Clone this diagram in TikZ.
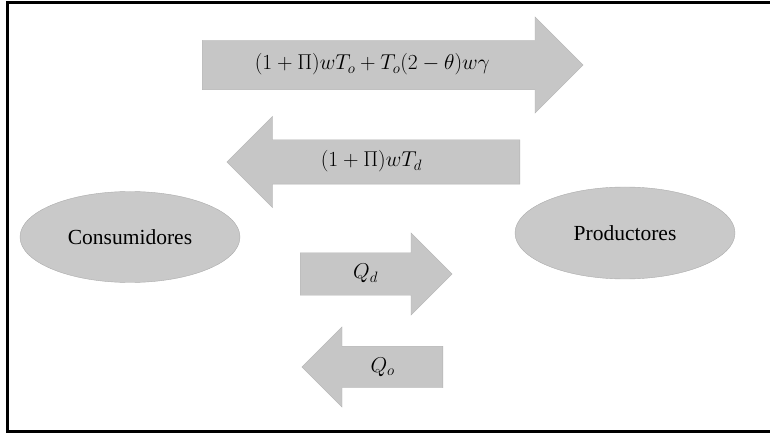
\RequirePackage{fix-cm}
\documentclass[tikz,border=0pt]{standalone}
\usepackage{amsmath,amssymb}
\usepackage{fontspec}
\setmainfont{Liberation Serif}
\usetikzlibrary{shapes.geometric,shapes.arrows}
\definecolor{flowgray}{RGB}{198,198,198}
\definecolor{blobgray}{RGB}{201,201,201}
\definecolor{blobedge}{RGB}{172,172,172}

\begin{document}
\begin{tikzpicture}[x=1pt,y=-1pt,
  agent/.style={ellipse,draw=blobedge,fill=blobgray,inner sep=0pt,font=\fontsize{21.5}{24}\selectfont},
  flow/.style={single arrow,fill=flowgray,draw=flowgray!90!black,line width=0.4pt,inner xsep=0pt,
    text height=16pt,text depth=6pt,single arrow tip angle=90,anchor=tail,
    font=\fontsize{21.5}{24}\selectfont},
  back/.style={shape border rotate=180}
]
  \useasboundingbox (0,0) rectangle (770,435);
  \draw[line width=3pt] (770,3)--(7,3)--(7,431)--(770,431);

  \node[agent,minimum width=220pt,minimum height=91pt] (cons) at (130,237) {Consumidores};
  \node[agent,minimum width=220pt,minimum height=92pt] (prod) at (625,233) {Productores};

  \node[flow,minimum height=381pt,inner ysep=13.5pt,single arrow head extend=23.5pt] (pago) at (202,65)
    {\hspace*{-16pt}$(1+\Pi)wT_o+T_o(2-\theta)w\gamma$};
  \node[flow,back,minimum height=293pt,inner ysep=11pt,single arrow head extend=23.5pt] (ingreso) at (520,162)
    {\hspace*{-26pt}$(1+\Pi)wT_d$};
  \node[flow,minimum height=152pt,inner ysep=10pt,single arrow head extend=20pt] (qd) at (300,274)
    {$Q_d$};
  \node[flow,back,minimum height=141pt,inner ysep=9.5pt,single arrow head extend=19.5pt] (qo) at (443,367)
    {$Q_o$};
\end{tikzpicture}
\end{document}
